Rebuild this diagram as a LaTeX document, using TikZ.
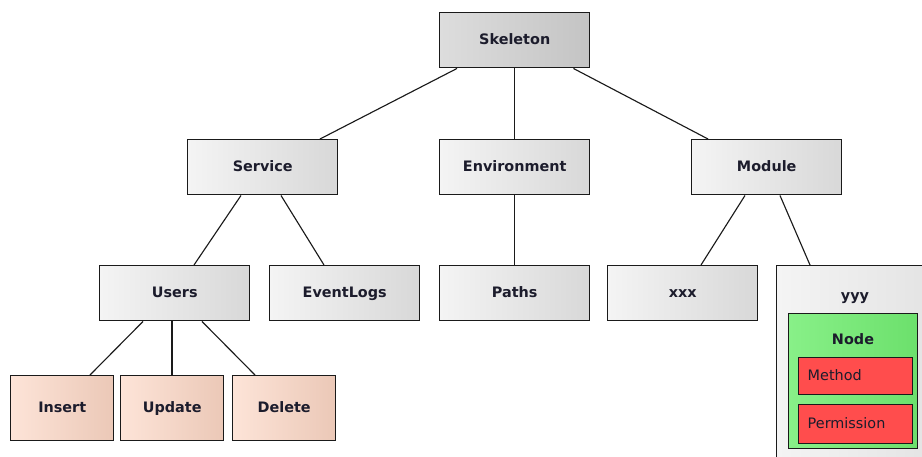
\documentclass[tikz,border=0pt]{standalone}
\usepackage{fontspec}
\setmainfont{DejaVu Sans}
\usetikzlibrary{calc}

\definecolor{txt}{HTML}{1C1C2C}
\definecolor{edge}{HTML}{1A1A1A}
\definecolor{greyL}{HTML}{F4F4F4}
\definecolor{greyR}{HTML}{D8D8D8}
\definecolor{rootL}{HTML}{DDDDDD}
\definecolor{rootR}{HTML}{C4C4C4}
\definecolor{peachL}{HTML}{FDE4D8}
\definecolor{peachR}{HTML}{EBC8B7}
\definecolor{greenL}{HTML}{88F088}
\definecolor{greenR}{HTML}{6CE06C}
\definecolor{redbox}{HTML}{FF4D4D}

\begin{document}
\begin{tikzpicture}[x=0.75pt,y=-0.75pt,
  box/.style={draw=edge, line width=1.1pt, anchor=north west, inner sep=0pt,
    text=txt, text height=8pt, text depth=2.3pt,
    font=\bfseries\fontsize{10.8}{12}\selectfont},
  greybox/.style={box, left color=greyL, right color=greyR,
    minimum width=112.5pt, minimum height=41.25pt},
  rootbox/.style={greybox, left color=rootL, right color=rootR},
  leafbox/.style={box, left color=peachL, right color=peachR,
    minimum width=77.25pt, minimum height=48.75pt},
  partbox/.style={box, fill=redbox, minimum width=85.5pt, text width=72pt,
    inner xsep=6.75pt, align=left, font=\fontsize{10.8}{12}\selectfont},
  caption/.style={text=txt, inner sep=0pt, text height=8pt, text depth=2.3pt,
    font=\bfseries\fontsize{10.8}{12}\selectfont},
  conn/.style={draw=edge, line width=0.85pt}]

\useasboundingbox (0,0) rectangle (922,457);

% tree levels
\node[rootbox] (skel) at (439,12) {Skeleton};

\node[greybox] (serv) at (187,139) {Service};
\node[greybox] (env)  at (439,139) {Environment};
\node[greybox] (mod)  at (691,139) {Module};

\node[greybox] (users) at (99,265)  {Users};
\node[greybox] (logs)  at (269,265) {EventLogs};
\node[greybox] (paths) at (439,265) {Paths};
\node[greybox] (xxx)   at (607,265) {xxx};

\node[leafbox] (ins) at (10,375)  {Insert};
\node[leafbox] (upd) at (120,375) {Update};
\node[leafbox] (del) at (232,375) {Delete};

% container holding the node with its parts
\node[box, left color=greyL, right color=greyR!60!greyL,
  minimum width=119.25pt, minimum height=153.75pt] (yyy) at (776,265) {};
\node[caption] (yyyt) at (855,297) {yyy};
\node[box, left color=greenL, right color=greenR,
  minimum width=96.75pt, minimum height=101.25pt] (nodebox) at (788,313) {};
\node[caption] (nodet) at (853,341) {Node};
\node[partbox, minimum height=27.75pt] (meth) at (798,357) {Method};
\node[partbox, minimum height=29.25pt] (perm) at (798,404) {Permission};

% connectors
\draw[conn] ($(skel.south west)+(18,0)$) -- ($(serv.north west)+(133,0)$);
\draw[conn] (skel.south) -- (env.north);
\draw[conn] ($(skel.south east)+(-17,0)$) -- ($(mod.north west)+(17,0)$);

\draw[conn] ($(serv.south west)+(54,0)$) -- ($(users.north west)+(95,0)$);
\draw[conn] ($(serv.south west)+(94,0)$) -- ($(logs.north west)+(55,0)$);
\draw[conn] (env.south) -- (paths.north);
\draw[conn] ($(mod.south west)+(54,0)$) -- ($(xxx.north west)+(94,0)$);
\draw[conn] ($(mod.south west)+(89,0)$) -- ($(yyy.north west)+(34,0)$);

\draw[conn] ($(users.south west)+(44,0)$) -- ($(ins.north west)+(80,0)$);
\draw[conn] ($(users.south west)+(73,0)$) -- ($(upd.north west)+(52,0)$);
\draw[conn] ($(users.south west)+(103,0)$) -- ($(del.north west)+(23,0)$);
\end{tikzpicture}
\end{document}
